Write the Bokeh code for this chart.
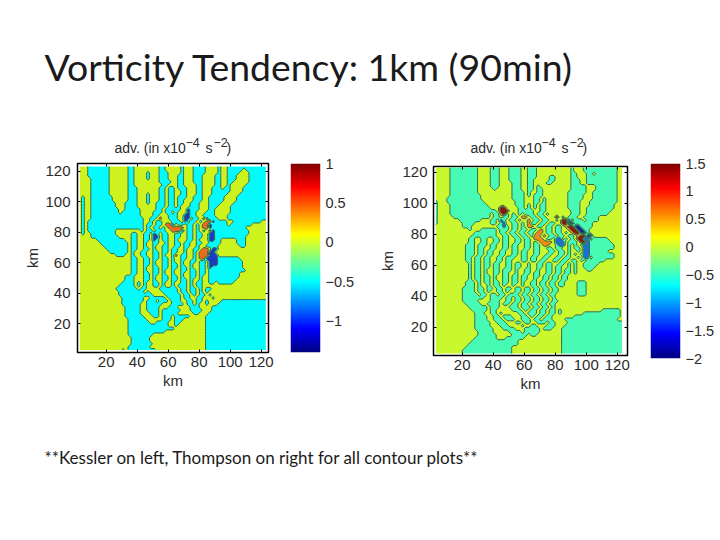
import numpy as np
from bokeh.embed import file_html
from bokeh.resources import INLINE
from bokeh.plotting import figure
from bokeh.layouts import row, column
from bokeh.models import Label, LinearAxis, FixedTicker, Range1d, LinearColorMapper, Spacer

TITLE = "Vorticity Tendency: 1km (90min)"
FOOTER = "**Kessler on left, Thompson on right for all contour plots**"
TICKS = [20, 40, 60, 80, 100, 120]
CB_TICKS_L = [1, 0.5, 0, -0.5, -1]
CB_TICKS_R = [1.5, 1, 0.5, 0, -0.5, -1, -1.5, -2]

# Field on a 2 km grid, top row first (y = 123 km).
# A "|" splits a row into segments that are padded to their own widths.
KESSLER = [
"...ccccccc......cc........cc.....c...cccc....c..ccccccccccccc",
"...ccccccc......cc........cc.....c...cccc....c..ccccc.ccccccc",
"...ccccccc......cc....c...ccc....c...cccc....c..cccc...cccccc",
"...ccccccc......cc....c...ccc...cc...ccc....cc..ccc....cccccc",
"....cccccc......cc....c...ccc...cc...ccc....cc..ccc....cccccc",
"....cccccc......cc........cccc..cc...ccc....cc..cc.....cccccc",
"....cccccc......cc.........cc...cc....cc....cc..c.....ccccccc",
"....cccccc......ccc.......cc.cc.ccc...cc...ccc.cc....cccccccc",
"....cccccc......ccc.......cc.cc..cc...cc...cccccc....cccccccc",
"....cccccc......ccc...c...cc.cc..cc...cc...ccccc....ccccccccc",
".c..ccccccc.....ccc...c...cc.cc.ccc..ccc..ccccc....cccccccccc",
".c..ccccccc.....ccc...c...cc.cc.cc...ccc..ccccc....cccccccccc",
".c..cccccccc...cccc...c..ccc.cc.cc..ccc...cccc....ccccccccccc",
".c..cccccccc...cccc......ccc.cc.c...ccc...ccc....cccccccccccc",
".c..ccccccccc..ccccc.....cc.ccccc..bccc...cc.....cccccccccccc",
".c..ccccccccc.cccccc....ccc.cc.c...bcc...ccc.....cccccccccccc",
".c..cccccccccccccccc....cc...ccc..bbcc..cccc....ccccccccccccc",
".c..ccccccccccccccccc..cc.r..ccc..bb.cc.rbccc...ccccccccccccc",
".c.cccccccccccccccccc..c.cc...ccc.b.cc.c.rrbcccc..ccccccccc..",
".c.cccccccccccccccccc.cc.cc.rrb.cc.cc.c.rrbccccc.ccccccc.....",
".c.cccccccccccccccccc.c.cc.c.rrrrr.cc.c.rrbccccccccccc.......",
".c.ccccccccc........c.cc.ccc..rrrb.cc.c.c.rbccccccccccc......",
".c..cccccccc....|.cc..cc.bc.cc..cc..cc.cc..bb|ccccccccccc......",
"....ccccccccc...|.cc..cc.bb.cc..cc..cc.cc..bb|cccccccccc.......",
"......ccccccccc.|.cc..cc.bc.cc..c...cc.c...bb|cc.....ccc.......",
".......ccccccccc|.cc..c..cc..c..cc.cc..cc..cc|cc.....ccc.......",
"........cccccccc|.cc..c..c..cc..cc.cc..c..ccc|c.......cc.......",
".........ccccccc|.cc..cc.c..cc.cc..c..cc.rr.b|b................",
"..........cccccc|.c..cc..cc.cc.cc..c..c.rrrbb|.................",
"............ccc.|.c..cc..cc.c..cr.cc..c.rrrbb|b................",
"................|.cc..cc.cc.cc.c..cc..c.rrbbb|bccccccc.........",
"................|.cc..cc.c..cc.c..c..cc.cc.bb|bcccccccc........",
"................|.cc..cc.c..cc.cc.c..c..cc.bb|bcccccccc........",
"................|.cc..c..cc.cc.cc.cc.c..cc.bc|ccccccccc........",
"................|.cc..c..cc.c..c..cc.cc.cc.cc|cccccccccc.......",
"................|.cc..cc.cc.c..c..c..cc.cc.cc|cccccccc.........",
"...............c|cc...cc.c..cc.cc.c..cc.c..cc|cccccccc.........",
"...............c|cc...cc.c..cc.cc.cc.c..c..cc|ccccccc..........",
"..............cc|cc.c.c..cc.c..c..cc.c.cc..cc|.ccccc...........",
".............ccc|cc.c.c..cc.c..c.ccc.c.cc....|.................",
"............ccccccc.cc....ccccc|c.cc.cc.c.cc..................",
".............cccccccc.c....cccc|c.cc.cc.c.c...................",
".............ccccccccccc....ccc|cc.cc.c.cc.c..................",
"..............ccccccc..ccccc.cc|cc.cc..cc...c.................",
"..............ccccccc.ccc.ccc.c|cc..cc.cc.c....ccccccccccccccc",
"..............cccccc..ccccc...c|ccc.cc.c..c...cccccccccccccccc",
"...............ccccc..cccc...cc|c....ccc....cccccccccccccccccc",
"...............ccccc..cccc.cccc|cc...cccc...cccccccccccccccccc",
"...............ccccc...ccc.cccc|c.....cc...ccccccccccccccccccc",
"...............cccccc...cc.ccc.|ccccc.....cccccccccccccccccccc",
"................cccccc.....ccc.|ccc.......cccccccccccccccccccc",
"................ccccccc..cccc..|cc........cccccccccccccccccccc",
"................ccccccccccccc..|c.........cccccccccccccccccccc",
"................ccccccccccccccc|..........cccccccccccccccccccc",
"................cccccccccccc...|..........cccccccccccccccccccc",
"................cccccccc.......|..........cccccccccccccccccccc",
".................cccccc........|..........cccccccccccccccccccc",
".................cccccc........|..........cccccccccccccccccccc",
".................ccccccc.......|..........cccccccccccccccccccc",
"................ccccccc........|..........cccccccccccccccccccc",
"..............c.ccccccccc......|..........cccccccccccccccccccc",
]

THOMPSON = [
".....ccccccccc....ccc...cccc..ccc...........c...ccccccccccc..",
".....ccccccccc....ccc...cccc..ccc...........c...ccccccccccc..",
".....ccccccccc....ccc...cccc..ccc...........cc...cc.ccccccc..",
".....ccccccccc....ccc...cccc..ccc....cc.....cc...cccccccccc..",
".....ccccccccc....ccc...cccc..cc.....cc.....ccc..cccccccccc..",
".....ccccccccc....ccc....ccc..cc....cc......ccc..cccccccccc..",
".....ccccccccc....ccc....ccc..cc.c..........ccccc...ccccccc..",
".....ccccccccc.....c.....ccc..cc.cc.........ccccc...ccccccc..",
".....ccccccccc...........cccc.c..cc........cccccc..cccccccc..",
".....cccccccccc..........cccc.c.ccc........ccccc...cccccccc..",
"....ccccccccccc..........cccc...cc.c.......ccccc...cccccccc..",
"c...cccccccccccc..........ccc...cc.c.......cccc...ccccccccc..",
"c....cccccccccccc.........ccc.c.c.cc.......cccc...cccccccc...",
"c....ccccccccccccc...RR....cc.c.c.cc.......cccc..ccccccccc...",
"c....ccccccccccccccc.RRR...ccccc..cc........ccc..cccccccc....",
"c....ccccccccccccc.ccrRc.c.c.ccc.cc.c.......ccc..ccccccc.....",
"c.....cccccccccccc.cc.cc.cc.rr.cc.cc...R.c.ccc..ccccc........",
"c.......ccccccc...cc.bc.cc.c..r.cc.cc..c.RRb.ccc.cccc........",
"c........cccc.....cc.cb..cc.c.rcc.cc.cc..RRBBcccccc..........",
".........ccc........ccbc.cc.c.rr.cc.cc.cc.rRRBBcccc...........",
"...........c...ccccc.ccc.cc.cc.cc.r.cc.cc..rRRBBcc...........",
".............ccccccc.cc.cc.cc.cc.rr.cc.cc.c.rRRBBc...........",
"............cccccccc..cc.cc.cc.crr.r.cc.cc.cc.rRRBB..........",
"...........|cc..cc..cc.cc..cc.cc.rrr.cc.bb.c.c|.RRbb.ccccc.....",
"...........|cc..cc..cc.cc..cc.cc.c.rrrr.bbb.cc|c.RRbccccccc....",
"..........c|cc.ccc.cc..cc.cc..cc.cc.rr..cbb.c.|c.cbbcccccccc...",
"..........c|cc.cc..cc..cc.cc..cc.cc..cc.cc..c.|cc.bbcccccccc...",
"..........c|cc.cc.cc..cc..cc.cc..cc...cc.cc.c.|.c.bbcccccc.....",
"..........c|cc.cc.cc..cc..cc.cc..cc..cc..cc.c.|c.cbbcccccccc...",
"..........c|c.cc.cc..cc.ccc..cc.cc..cc..cc.cc.|.c.bb.ccccccc...",
"..........c|c.cc.cc..cc.cc...cc.cc.cc..cc.cc.c|c.c.cccccc......",
"...........|c.cc.cc.cc..cc.cc..c..cc.cc..cc.c.|c..ccccc........",
"...........|c.cc.cc.cc..cc.cc..c..cc.cc.cc..c.|c..cccc.........",
"...........|c.cc.c..cc.ccc.c..cc..c..cc.cc.cc.|c...cc..........",
"...........|c.cc.c..cc.cc..c..cc.cc..cc.cc.cc.|c...............",
"...........|c.cc.cc.c..cc.cc.cc..cc.cc.cc.cc..|................",
"...........|c.cc.cc.c..cc.cc.cc..c..cc.cc.cc..|................",
"..........c|cc.c.cc.cc.cc.cc.c..cc.cc.cc.cc...|.ccc............",
"..........c|cc.c..c.cc.c..c..c..cc.cc.cc.cc...|.ccc............",
".........cc|cc.cc.cc.cc.cc.cc.cc.cc.cc.cc.....|.ccc............",
".........cc|cc.cc.c..cc.c..cc.cc.cc.cc.cc.....|.ccc............",
".........cc|ccc.cc.cc.cc.ccc.cc.cc.cc.cc......|.ccc............",
".........cc|ccccc..cccc.cc.cc.cc.cc.cc.c......|................",
".........cc|ccc....ccc..cc.cc.cc.cc.cc.cc.....|................",
"..........c|cccc..cccc.cc.cc.cc.cc.cc.cc......|................",
"...........|cccccc.ccc...ccc.ccc.cc.cc.c......|................",
"............ccccc.cc.....ccc.c.|cc.cc.cc.c.............cccccc",
".............ccc..cc.c.....cc.c|cc.cc.cc.c.......cccccccccccc",
".............cccc..cc.ccc...cc.|c.cc.cc.......ccccccccccccccc",
".............cccc..ccc.ccc..ccc|.cc.ccc....ccccccccccccccccc",
".............ccccc..ccc...cc.cc|..ccc.cc....cccccccccccccccccc",
".............ccccc...ccc....c..|cc...ccc...ccccccccccccccccccc",
".............cccccc...cccc...cc|ccc.ccc...cccccccccccccccccccc",
"..............ccccc.....cccc.cc|ccc.......cccccccccccccccccccc",
"..............cccccc.....ccccc.|cc........cccccccccccccccccccc",
".............ccccccc...cccccc..|..........cccccccccccccccccccc",
"............ccccccccccccccc....|..........cccccccccccccccccccc",
"...........cccccccccccccccc....|..........cccccccccccccccccccc",
"..........ccccccccccccccc......|..........cccccccccccccccccccc",
".........cccccccccccccccc......|..........cccccccccccccccccccc",
".........cccccccccccccccc......|..........cccccccccccccccccccc",
]

VALUES_L = {".": 0.1, "c": -0.45, "b": -1.1, "B": -1.3, "r": 0.65, "R": 0.95}
VALUES_R = {".": 0.1, "c": -0.45, "b": -1.2, "B": -1.8, "r": 0.6, "R": 1.3}
LEVELS_L = [-1.4, -0.8, -0.2, 0.35, 1.0]
COLORS_L = ["#1c3cc0", "#05fbfb", "#cdf31f", "#ee6a1c"]
LEVELS_R = [-2.0, -1.5, -0.8, -0.2, 0.35, 0.9, 1.5]
COLORS_R = ["#0a1a8c", "#1f6fd8", "#48fbb4", "#c9f82e", "#ee8a1c", "#8c1408"]
LINE = "#2f6a45"
INK = "#2b2b2b"
SANS = "Liberation Sans"


def jet_palette(n=256):
    t = np.linspace(0, 1, n)
    channels = [np.clip(1.5 - np.abs(4 * t - k), 0, 1) for k in (3, 2, 1)]
    return ["#%02x%02x%02x" % tuple(int(round(c[i] * 255)) for c in channels) for i in range(n)]


def clean(text, mid_end):
    parts = text.split("|")
    if len(parts) == 1:
        return text.ljust(61, ".")[:61]
    if len(parts) == 2:
        cut = len(parts[0])
        return (parts[0] + parts[1].ljust(61 - cut, "."))[:61]
    w1 = mid_end - len(parts[0])
    return (parts[0] + parts[1].ljust(w1, ".")[:w1] + parts[2].ljust(61 - mid_end, "."))[:61]


def grid(rows, values, mid_end):
    cells = [[values[ch] for ch in clean(r, mid_end)] for r in rows]
    return np.array(cells[::-1], dtype=float)


def panel(rows, values, mid_end, levels, colors, xlim, ylim, fw, fh, left, right, top, bottom,
          tick_px, x_tick_standoff, y_tick_standoff, x_standoff, y_standoff):
    p = figure(frame_width=fw, frame_height=fh, x_range=Range1d(*xlim), y_range=Range1d(*ylim),
               output_backend="svg", toolbar_location=None,
               min_border_left=left, min_border_right=right,
               min_border_top=top, min_border_bottom=bottom)
    p.grid.visible = False
    p.outline_line_color = "black"
    p.outline_line_width = 1.5
    x = np.arange(61) * 2.0 + 3
    y = np.arange(len(rows)) * 2.0 + (123 - 2 * (len(rows) - 1))
    p.contour(x, y, grid(rows, values, mid_end), levels, fill_color=colors,
              line_color=LINE, line_width=1)
    for ax in (p.xaxis[0], p.yaxis[0]):
        ax.ticker = FixedTicker(ticks=TICKS)
        ax.minor_tick_line_color = None
        ax.major_tick_in = 3
        ax.major_tick_out = 0
        ax.major_tick_line_color = "black"
        ax.axis_line_color = "black"
        ax.major_label_text_font = SANS
        ax.major_label_text_font_size = tick_px
        ax.major_label_text_color = INK
        ax.axis_label = "km"
        ax.axis_label_text_font = SANS
        ax.axis_label_text_font_size = "15px"
        ax.axis_label_text_font_style = "normal"
        ax.axis_label_text_color = INK
    p.xaxis[0].major_label_standoff = x_tick_standoff
    p.yaxis[0].major_label_standoff = y_tick_standoff
    p.xaxis[0].axis_label_standoff = x_standoff
    p.yaxis[0].axis_label_standoff = y_standoff
    p.yaxis[0].major_label_orientation = "horizontal"
    for side in ("above", "right"):
        extra = LinearAxis(ticker=FixedTicker(ticks=TICKS),
                           major_label_overrides={t: "" for t in TICKS},
                           major_tick_in=3, major_tick_out=0, minor_tick_line_color=None,
                           major_label_standoff=0, major_label_text_font_size="1px",
                           axis_line_color="black")
        p.add_layout(extra, side)
    return p


def heading(width, height, x0, y0):
    p = figure(width=width, height=height, output_backend="svg", toolbar_location=None,
               x_range=Range1d(0, 1), y_range=Range1d(0, 1),
               min_border=0, min_border_left=0, min_border_right=0, min_border_top=0, min_border_bottom=0)
    p.axis.visible = False
    p.grid.visible = False
    p.outline_line_color = None
    for text, dx, dy, size in (("adv. (in x10", 0, 0, "14px"), ("\u22124", 71, 5, "12.5px"),
                               ("s", 91, 0, "14px"), ("\u22122", 99, 5, "12.5px"),
                               (")", 112, 0, "14px")):
        p.add_layout(Label(x=x0 + dx, y=y0 + dy, x_units="screen", y_units="screen",
                           text=text, text_font=SANS, text_font_size=size, text_color=INK,
                           text_baseline="middle", text_align="left"))
    return p


def colorbar(lo, hi, ticks, fh, top, bottom, left, right, tick_px):
    mapper = LinearColorMapper(palette=jet_palette(), low=lo, high=hi)
    p = figure(frame_width=30, frame_height=fh, x_range=Range1d(0, 1), y_range=Range1d(lo, hi),
               output_backend="svg", toolbar_location=None, y_axis_location="right",
               min_border_left=left, min_border_right=right,
               min_border_top=top, min_border_bottom=bottom)
    ramp = np.linspace(lo, hi, 256).reshape(-1, 1)
    p.image(image=[ramp], x=0, y=lo, dw=1, dh=hi - lo, color_mapper=mapper)
    p.grid.visible = False
    p.xaxis.visible = False
    p.outline_line_color = None
    ax = p.yaxis[0]
    ax.ticker = FixedTicker(ticks=ticks)
    ax.major_label_overrides = {t: (f"{t:g}").replace("-", "\u2212") for t in ticks}
    ax.major_tick_line_color = None
    ax.major_tick_in = 0
    ax.major_tick_out = 0
    ax.minor_tick_line_color = None
    ax.axis_line_color = None
    ax.major_label_standoff = 5
    ax.major_label_text_font = SANS
    ax.major_label_text_font_size = tick_px
    ax.major_label_text_color = INK
    return p


def banner(text, height, px, y, size, color):
    p = figure(width=712, height=height, output_backend="svg", toolbar_location=None,
               x_range=Range1d(0, 1), y_range=Range1d(0, 1),
               min_border=0, min_border_left=0, min_border_right=0, min_border_top=0, min_border_bottom=0)
    p.axis.visible = False
    p.grid.visible = False
    p.outline_line_color = None
    p.add_layout(Label(x=px, y=y, x_units="screen", y_units="screen", text=text, text_font="Lato",
                       text_font_size=size, text_color=color, text_baseline="middle"))
    return p


head = banner(TITLE, 130, 44, 64, "37.4px", "#1a1a1a")
foot = banner(FOOTER, 132, 44, 75, "17px", "#1a1a1a")

left_title = heading(280, 28, 37, 11)
left_panel = panel(KESSLER, VALUES_L, 44, LEVELS_L, COLORS_L, (1.5, 124.7), (1.3, 125.0),
                   191, 189, 77, 12, 5, 48, "15px", 4, 7, 2, 1)
left_bar = colorbar(-1.4, 1, CB_TICKS_L, 189, 15, 48, 10, 40, "14.5px")
right_title = heading(287, 31, 37, 14)
right_panel = panel(THOMPSON, VALUES_R, 45, LEVELS_R, COLORS_R, (1.5, 126.6), (1.7, 123.7),
                    194, 189, 73, 20, 5, 45, "15px", 4, 6, 2, 3)
right_bar = colorbar(-2, 1.5, CB_TICKS_R, 195, 15, 42, 3, 32, "14.5px")

charts = row(column(left_title, left_panel),
             column(Spacer(width=80, height=18), left_bar),
             column(right_title, right_panel),
             column(Spacer(width=65, height=18), right_bar))
layout = column(head, charts, foot)
open("out.html", "w").write(file_html(layout, INLINE))
